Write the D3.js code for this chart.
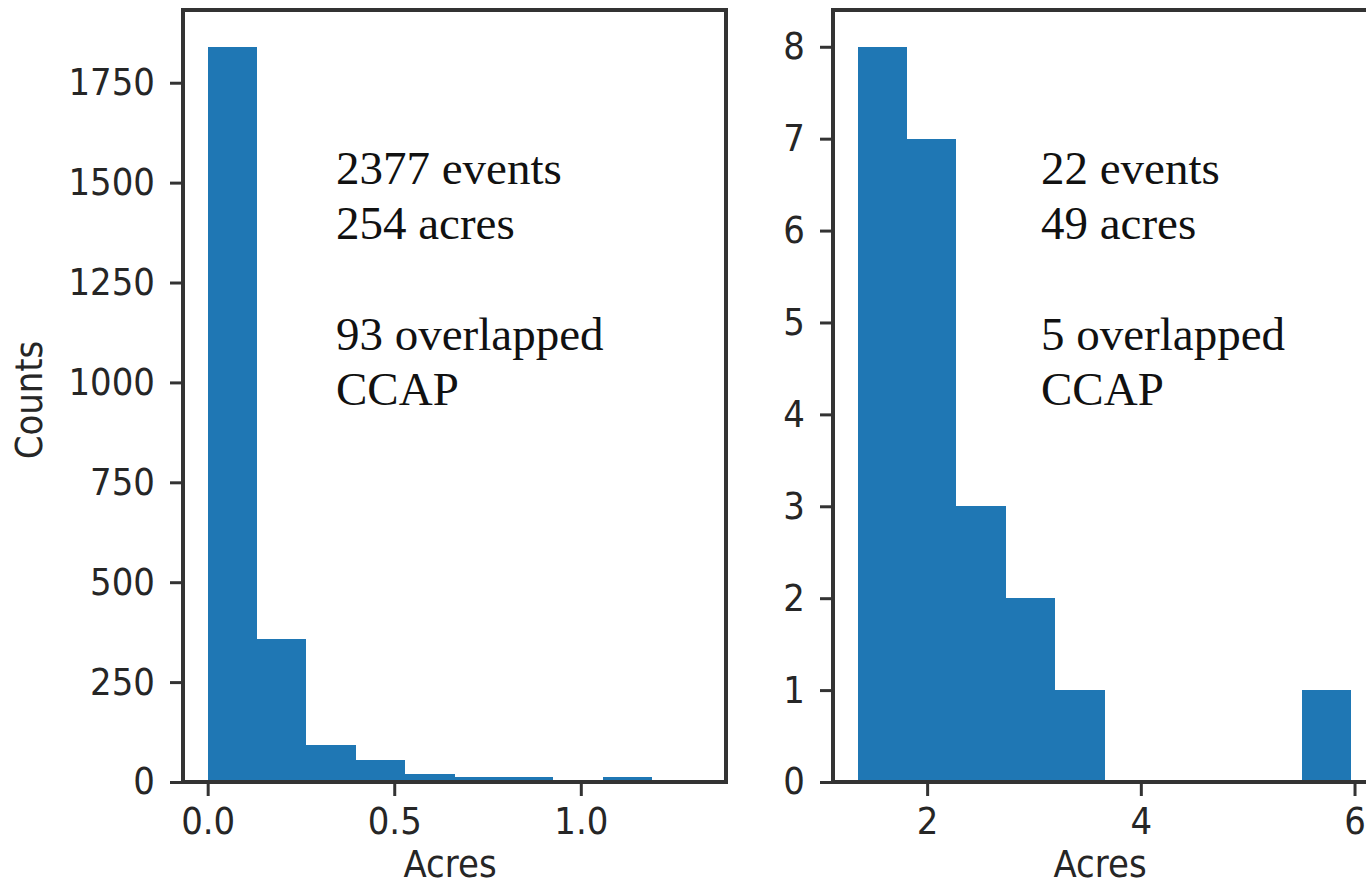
<!DOCTYPE html>
<html>
<head>
<meta charset="utf-8">
<script src="https://cdn.jsdelivr.net/npm/d3@7"></script>
<style>
  body { margin: 0; background: #fff; }
  svg { display: block; }
  .tick text { font-family: "DejaVu Sans", sans-serif; font-size: 34px; fill: #262626; }
  .label { font-family: "DejaVu Sans", sans-serif; font-size: 34px; fill: #262626; }
  .note { font-family: "Liberation Serif", serif; font-size: 47px; fill: #111; }
</style>
</head>
<body>
<svg width="1366" height="886"></svg>
<script>
// histogram counts per bin (10 bins each)
const leftCounts = [1840, 358, 93, 55, 20, 12, 12, 0, 12, 1];
const rightCounts = [8, 7, 3, 2, 1, 0, 0, 0, 0, 1];
// data min / max of each histogram
const leftRange = [0, 1.323];
const rightRange = [1.35, 5.97];
// tick values
const leftYTicks = [0, 250, 500, 750, 1000, 1250, 1500, 1750];
const rightYTicks = [0, 1, 2, 3, 4, 5, 6, 7, 8];
const leftXTicks = [0, 0.5, 1.0];
const rightXTicks = [2, 4, 6];
// annotation text
const leftNote = ["2377 events", "254 acres", "", "93 overlapped", "CCAP"];
const rightNote = ["22 events", "49 acres", "", "5 overlapped", "CCAP"];

var svg = d3.select("svg");
var pTop = 10, pBottom = 782;

drawPanel({
  left: 183, right: 726, counts: leftCounts, range: leftRange,
  yTicks: leftYTicks, xTicks: leftXTicks, xFmt: d3.format(".1f"),
  note: leftNote, noteX: 336, xLabelX: 450, yLabel: true
});
drawPanel({
  left: 833, right: 1376, counts: rightCounts, range: rightRange,
  yTicks: rightYTicks, xTicks: rightXTicks, xFmt: d3.format("d"),
  note: rightNote, noteX: 1041, xLabelX: 1100, yLabel: false
});

function drawPanel(cfg) {
  var lo = cfg.range[0], hi = cfg.range[1];
  var n = cfg.counts.length;
  var w = (hi - lo) / n;
  var pad = (hi - lo) * 0.05;

  var xScale = d3.scaleLinear().domain([lo - pad, hi + pad]).range([cfg.left, cfg.right]);
  var yScale = d3.scaleLinear().domain([0, d3.max(cfg.counts) * 1.05]).range([pBottom, pTop]);

  var g = svg.append("g");

  // bars
  g.selectAll(".bar")
    .data(cfg.counts)
    .enter().append("rect")
    .attr("class", "bar")
    .attr("x", (d, i) => xScale(lo + i * w))
    .attr("width", (d, i) => xScale(lo + (i + 1) * w) - xScale(lo + i * w))
    .attr("y", d => yScale(d))
    .attr("height", d => yScale(0) - yScale(d))
    .attr("fill", "#1f77b4")
    .attr("shape-rendering", "crispEdges");

  // y-axis
  var yAxis = g.append("g")
    .attr("transform", `translate(${cfg.left}, 0)`)
    .call(d3.axisLeft(yScale).tickValues(cfg.yTicks).tickFormat(d3.format("d")).tickSize(13).tickPadding(15));
  // x-axis
  var xAxis = g.append("g")
    .attr("transform", `translate(0, ${pBottom})`)
    .call(d3.axisBottom(xScale).tickValues(cfg.xTicks).tickFormat(cfg.xFmt).tickSize(14).tickPadding(9));

  [yAxis, xAxis].forEach(a => {
    a.select(".domain").remove();
    a.selectAll(".tick line").attr("stroke", "#333").attr("stroke-width", 3);
    a.selectAll(".tick text").attr("transform", "scale(1,1.1)");
  });

  // frame
  g.append("rect")
    .attr("x", cfg.left)
    .attr("y", pTop)
    .attr("width", cfg.right - cfg.left)
    .attr("height", pBottom - pTop)
    .attr("fill", "none")
    .attr("stroke", "#333")
    .attr("stroke-width", 4);

  // axis labels
  g.append("text")
    .attr("class", "label")
    .attr("text-anchor", "middle")
    .attr("transform", `translate(${cfg.xLabelX}, 877) scale(1,1.1)`)
    .text("Acres");

  if (cfg.yLabel) {
    g.append("text")
      .attr("class", "label")
      .attr("text-anchor", "middle")
      .attr("transform", "translate(42, 400) rotate(-90) scale(1,1.1)")
      .text("Counts");
  }

  // annotation
  g.selectAll(".note")
    .data(cfg.note)
    .enter().append("text")
    .attr("class", "note")
    .attr("x", cfg.noteX)
    .attr("y", (d, i) => 184 + i * 55.3)
    .text(d => d);
}
</script>
</body>
</html>
